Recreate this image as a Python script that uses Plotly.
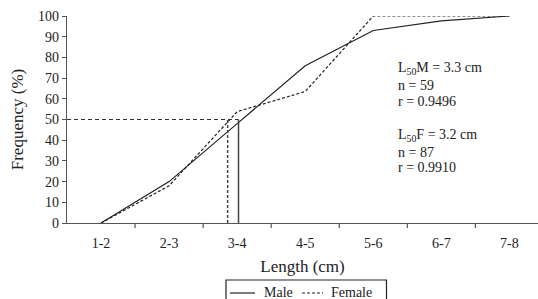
import plotly.graph_objects as go

categories = ["1-2", "2-3", "3-4", "4-5", "5-6", "6-7", "7-8"]
male = [0, 20, 48, 76, 93, 97.6, 100]
female = [0, 18, 53.8, 63.5, 100, 100, 100]
l50_male_pos = 2.02   # 3.3 cm on category scale
l50_female_pos = 1.86  # 3.2 cm on category scale
l50_level = 50
stats_lines = ["L<sub>50</sub>M = 3.3 cm", "n = 59", "r = 0.9496",
               "L<sub>50</sub>F = 3.2 cm", "n = 87", "r = 0.9910"]
stats_pix_y = [68, 85, 102, 135, 152, 168]
series_names = ["Male", "Female"]

FONT = "Liberation Serif, Times New Roman, serif"
L, T, PH, W, H = 67, 16, 207, 538, 299
PW = W - L
SHORT_DASH = "3px,2px"


def px(xp):
    return (xp - L) / PW


def py(yp):
    return (T + PH - yp) / PH


xs = list(range(len(categories)))

fig = go.Figure()
fig.add_trace(go.Scatter(x=xs, y=male, mode="lines", name=series_names[0], showlegend=False,
                         line=dict(color="#222", width=1.2)))
fig.add_trace(go.Scatter(x=xs, y=female, mode="lines", name=series_names[1], showlegend=False,
                         line=dict(color="#222", width=1.2, dash=SHORT_DASH)))

# L50 guides
fig.add_trace(go.Scatter(x=[-0.5, l50_male_pos], y=[l50_level, l50_level], mode="lines",
                         showlegend=False, line=dict(color="#333", width=1.2, dash="4px,3px")))
fig.add_trace(go.Scatter(x=[l50_male_pos, l50_male_pos], y=[0, l50_level], mode="lines",
                         showlegend=False, line=dict(color="#444", width=1.5)))
fig.add_trace(go.Scatter(x=[l50_female_pos, l50_female_pos], y=[0, l50_level], mode="lines",
                         showlegend=False, line=dict(color="#444", width=1.5, dash=SHORT_DASH)))

for txt, yp in zip(stats_lines, stats_pix_y):
    fig.add_annotation(text=txt, xref="paper", yref="paper",
                       x=px(396), y=py(yp),
                       xanchor="left", yanchor="middle", showarrow=False,
                       font=dict(family=FONT, size=14, color="#222"))

# manual legend (box cut by bottom edge as in reference)
fig.add_shape(type="rect", xref="paper", yref="paper",
              x0=px(226), x1=px(386.5), y0=py(280), y1=py(310),
              line=dict(color="#222", width=1.2), fillcolor="rgba(0,0,0,0)")
legend_items = [
    (series_names[0], "solid", 230, 255, 262),
    (series_names[1], SHORT_DASH, 302, 323, 329),
]
for name, dash, x0, x1, tx in legend_items:
    fig.add_shape(type="line", xref="paper", yref="paper",
                  x0=px(x0), x1=px(x1), y0=py(293), y1=py(293),
                  line=dict(color="#222", width=1.2, dash=dash))
    fig.add_annotation(text=name, xref="paper", yref="paper", x=px(tx), y=py(292),
                       xanchor="left", yanchor="middle", showarrow=False,
                       font=dict(family=FONT, size=14, color="#222"))

fig.update_layout(
    width=W, height=H,
    margin=dict(l=L, r=0, t=T, b=H - T - PH, autoexpand=False),
    paper_bgcolor="white", plot_bgcolor="white",
    font=dict(family=FONT, size=14, color="#222"),
    showlegend=False,
    xaxis=dict(range=[-0.5, 6.42], tickmode="array", tickvals=xs, ticktext=categories,
               showline=True, linecolor="#555", linewidth=1.2, showgrid=False,
               zeroline=False, ticks="", automargin=False, ticklabelstandoff=7,
               title=dict(text="Length (cm)", standoff=10)),
    yaxis=dict(range=[0, 100], tickvals=list(range(0, 101, 10)),
               showline=True, linecolor="#555", linewidth=1.2, showgrid=False,
               zeroline=False, ticks="outside", ticklen=4, tickcolor="#555",
               automargin=False,
               title=dict(text="Frequency (%)", standoff=10)),
)

# boundary ticks on x axis (between categories)
for b in range(len(categories)):
    fig.add_shape(type="line", xref="x", yref="paper", x0=b + 0.5, x1=b + 0.5,
                  y0=0, y1=-5 / PH, line=dict(color="#555", width=1.2))

fig.write_html("out.html", config={"displayModeBar": False},
               post_script="document.body.style.margin='0';document.body.style.overflow='hidden';")
